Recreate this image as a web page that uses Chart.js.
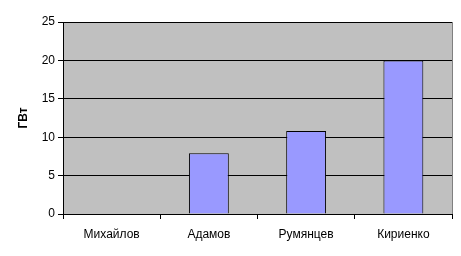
<!DOCTYPE html>
<html>
<head>
<meta charset="utf-8">
<script src="https://cdn.jsdelivr.net/npm/chart.js@4"></script>
<style>
  html, body { margin: 0; padding: 0; background: #fff; }
  #wrap { width: 461px; height: 256px; }
</style>
</head>
<body>
<div id="wrap"><canvas id="myChart" width="461" height="256"></canvas></div>
<script>
const names = ['Михайлов', 'Адамов', 'Румянцев', 'Кириенко'];
const gwt = [0, 7.9, 10.8, 20];
const yTicks = [0, 5, 10, 15, 20, 25];

// серый фон области построения
const plotBg = {
    id: 'plotBg',
    beforeDraw(chart) {
        const { ctx, chartArea: a } = chart;
        ctx.save();
        ctx.fillStyle = '#c0c0c0';
        ctx.fillRect(a.left, a.top, a.right - a.left, a.bottom - a.top);
        ctx.strokeStyle = '#808080';
        ctx.lineWidth = 1;
        ctx.strokeRect(a.left + 0.5, a.top + 0.5, a.right - a.left, a.bottom - a.top);
        ctx.restore();
    }
};

new Chart(document.getElementById('myChart'), {
    type: 'bar',
    data: {
        labels: names,
        datasets: [{
            label: 'ГВт',
            data: gwt,
            backgroundColor: '#9999ff',
            borderColor: '#000000',
            borderWidth: 1,
            barPercentage: 1,
            categoryPercentage: 0.41
        }]
    },
    options: {
        responsive: false,
        animation: false,
        layout: { padding: { top: 22, right: 9, left: 0, bottom: 0 } },
        plugins: {
            legend: { display: false },
            tooltip: { enabled: false }
        },
        scales: {
            x: {
                offset: true,
                grid: { offset: true, drawOnChartArea: false, color: '#000', tickLength: 5, tickColor: '#000' },
                border: { color: '#000' },
                ticks: { color: '#000', font: { family: 'Liberation Sans', size: 12 }, padding: 8, maxRotation: 0 },
                afterFit(s) { s.height = 42; }
            },
            y: {
                min: 0,
                max: 25,
                afterBuildTicks(s) { s.ticks = yTicks.map(v => ({ value: v })); },
                grid: { color: '#000', tickLength: 5, tickColor: '#000' },
                border: { color: '#000' },
                ticks: { color: '#000', font: { family: 'Liberation Sans', size: 12 }, padding: 3 },
                title: { display: true, text: 'ГВт', color: '#000', font: { family: 'Liberation Sans', size: 12, weight: 'bold' }, padding: { top: 16, bottom: 0 } },
                afterFit(s) { s.width = 63; }
            }
        }
    },
    plugins: [plotBg]
});
</script>
</body>
</html>
